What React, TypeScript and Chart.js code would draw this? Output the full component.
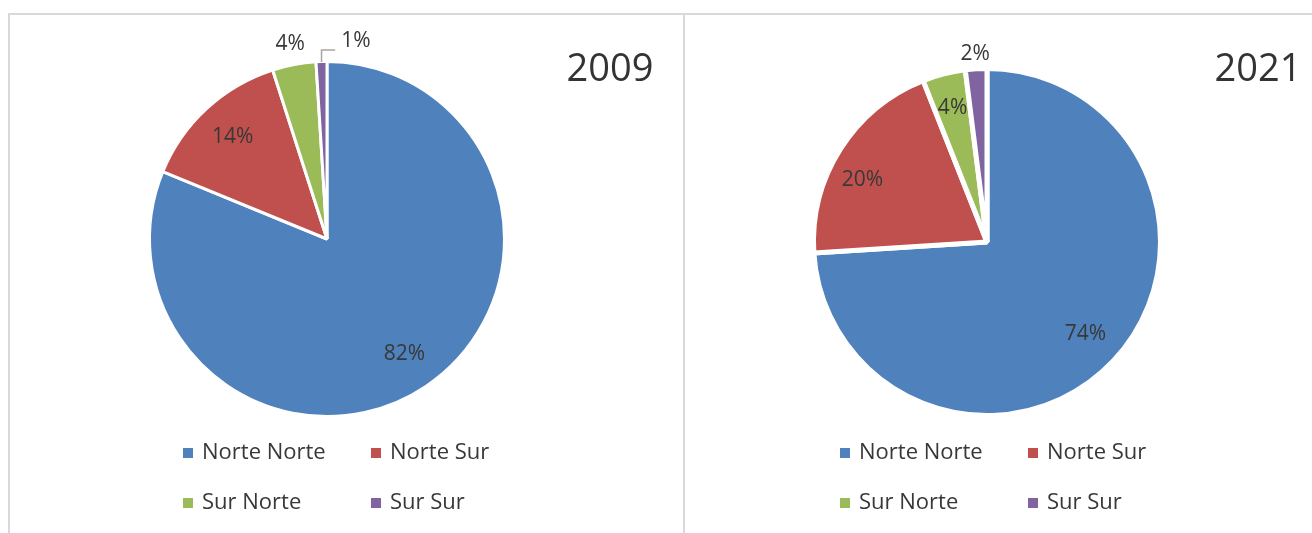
import React, { useEffect, useRef } from 'react';
import { Chart, registerables } from 'chart.js';

Chart.register(...registerables);

// ---- data ----
const categories = ['Norte Norte', 'Norte Sur', 'Sur Norte', 'Sur Sur'];
const years = ['2009', '2021'];
const values2009 = [82, 14, 4, 1];
const values2021 = [74, 20, 4, 2];
const sliceColors = ['#4F81BD', '#C0504D', '#9BBB59', '#8064A2'];

const FONT = '"Open Sans", "Noto Sans", sans-serif';
const TEXT_COLOR = '#383838';
const PAGE_H = 533;

type PanelCfg = {
  year: string;
  values: number[];
  left: number;
  width: number;
  cx: number;
  cy: number;
  r: number;
  border: number;
  titleX: number;
  labelR: number[];
  shiftX: number[];
  shiftY: number[];
  leader: boolean[];
  legendCols: number[];
};

const panels: PanelCfg[] = [
  {
    year: years[0], values: values2009, left: 10, width: 673, cx: 327, cy: 239, r: 176, border: 3,
    titleX: 610, labelR: [0.79, 0.79, 1.125, 1.125], shiftX: [0, 0, 0, 35], shiftY: [0, 0, 0, 0],
    leader: [false, false, false, true], legendCols: [-144, 44],
  },
  {
    year: years[1], values: values2021, left: 685, width: 627, cx: 987, cy: 242, r: 171, border: 5,
    titleX: 1258, labelR: [0.79, 0.78, 0.81, 1.10], shiftX: [0, -12, 0, 0], shiftY: [0, 9, 0, 0],
    leader: [false, false, false, false], legendCols: [-147, 41],
  },
];

const legendRows = [453, 503];

function PieChart({ cfg }: { cfg: PanelCfg }) {
  const ref = useRef<HTMLCanvasElement>(null);
  useEffect(() => {
    const canvas = ref.current;
    if (!canvas) return;
    const localCx = cfg.cx - cfg.left;
    const half = cfg.r + cfg.border;
    const overlay = {
      id: 'overlay',
      afterDraw(chart: any) {
        const ctx = chart.ctx;
        const meta = chart.getDatasetMeta(0);
        ctx.save();
        // data labels
        ctx.font = `21px ${FONT}`;
        ctx.fillStyle = TEXT_COLOR;
        ctx.textAlign = 'center';
        ctx.textBaseline = 'middle';
        meta.data.forEach((arc: any, i: number) => {
          const a = (arc.startAngle + arc.endAngle) / 2;
          const rVis = arc.outerRadius - cfg.border / 2;
          const lx = arc.x + Math.cos(a) * rVis * cfg.labelR[i] + cfg.shiftX[i];
          const ly = arc.y + Math.sin(a) * rVis * cfg.labelR[i] + cfg.shiftY[i];
          const text = `${cfg.values[i]}%`;
          ctx.fillText(text, lx, ly);
          if (cfg.leader[i]) {
            const ex = arc.x + Math.cos(a) * rVis;
            const ey = arc.y + Math.sin(a) * rVis;
            const w = ctx.measureText(text).width;
            ctx.strokeStyle = '#A6A6A6';
            ctx.lineWidth = 1.5;
            ctx.beginPath();
            ctx.moveTo(ex, ey - 1);
            ctx.lineTo(ex, ly + 9);
            ctx.lineTo(lx - w / 2 - 6, ly + 9);
            ctx.stroke();
          }
        });
        // title
        ctx.font = `38px ${FONT}`;
        ctx.fillStyle = '#333333';
        ctx.textAlign = 'center';
        ctx.fillText(cfg.year, cfg.titleX - cfg.left, 70);
        // legend
        ctx.font = `22px ${FONT}`;
        ctx.textAlign = 'left';
        categories.forEach((name, i) => {
          const col = i % 2;
          const row = Math.floor(i / 2);
          const sx = meta.data[0].x + cfg.legendCols[col];
          const sy = legendRows[row];
          ctx.fillStyle = sliceColors[i];
          ctx.fillRect(sx, sy - 5, 10, 10);
          ctx.fillStyle = TEXT_COLOR;
          ctx.fillText(name, sx + 19, sy);
        });
        ctx.restore();
      },
    };
    const chart = new Chart(canvas, {
      type: 'pie',
      data: {
        labels: categories,
        datasets: [
          {
            data: cfg.values,
            backgroundColor: sliceColors,
            borderColor: '#FFFFFF',
            borderWidth: cfg.border,
          },
        ],
      },
      options: {
        animation: false,
        responsive: false,
        maintainAspectRatio: false,
        layout: {
          padding: {
            left: localCx - half,
            right: cfg.width - localCx - half,
            top: cfg.cy - half,
            bottom: PAGE_H - cfg.cy - half,
          },
        },
        plugins: {
          legend: { display: false },
          tooltip: { enabled: false },
          title: { display: false },
        },
      },
      plugins: [overlay],
    });
    return () => chart.destroy();
  }, [cfg]);
  return (
    <canvas
      ref={ref}
      width={cfg.width}
      height={PAGE_H}
      style={{ position: 'absolute', left: cfg.left, top: 0, width: cfg.width, height: PAGE_H }}
    />
  );
}

export default function App() {
  return (
    <div style={{ position: 'fixed', left: 0, top: 0, width: 1312, height: PAGE_H, background: '#FFFFFF', overflow: 'hidden' }}>
      <div style={{ position: 'absolute', left: 8, top: 13, width: 1400, height: 700, border: '2px solid #D9D9D9', boxSizing: 'border-box' }} />
      <div style={{ position: 'absolute', left: 683, top: 13, width: 2, height: 700, background: '#D9D9D9' }} />
      {panels.map((p) => (
        <PieChart key={p.year} cfg={p} />
      ))}
    </div>
  );
}
